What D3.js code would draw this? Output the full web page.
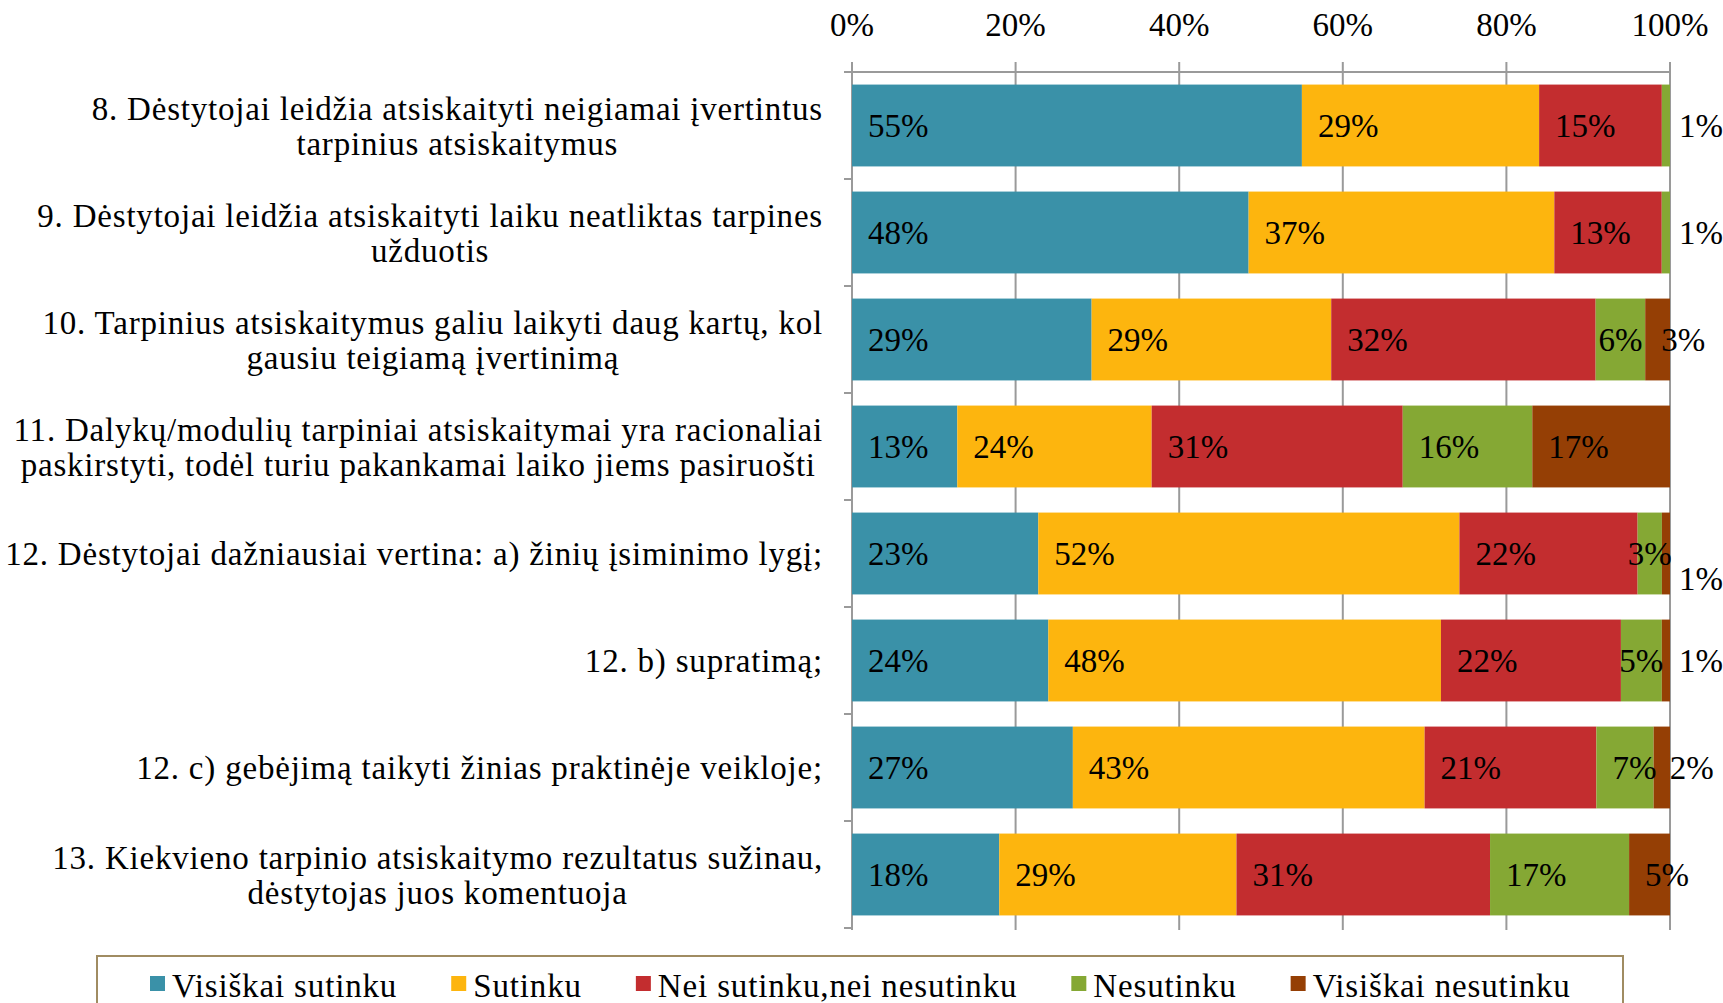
<!DOCTYPE html>
<html>
<head>
<meta charset="utf-8">
<script src="https://cdnjs.cloudflare.com/ajax/libs/d3/7.8.5/d3.min.js"></script>
<style>
  body { margin: 0; background: #fff; }
  text { font-family: "Liberation Serif", "DejaVu Serif", serif; fill: #000; }
</style>
</head>
<body>
<svg id="chart" width="1723" height="1003"></svg>
<script>
const categories = [
  "8. Dėstytojai leidžia atsiskaityti neigiamai įvertintus\ntarpinius atsiskaitymus",
  "9. Dėstytojai leidžia atsiskaityti laiku neatliktas tarpines\nužduotis",
  "10. Tarpinius atsiskaitymus galiu laikyti daug kartų, kol\ngausiu teigiamą įvertinimą",
  "11. Dalykų/modulių tarpiniai atsiskaitymai yra racionaliai\npaskirstyti, todėl turiu pakankamai laiko jiems pasiruošti",
  "12. Dėstytojai dažniausiai vertina: a) žinių įsiminimo lygį;",
  "12. b) supratimą;",
  "12. c) gebėjimą taikyti žinias praktinėje veikloje;",
  "13. Kiekvieno tarpinio atsiskaitymo rezultatus sužinau,\ndėstytojas juos komentuoja"
];
const seriesNames = ["Visiškai sutinku", "Sutinku", "Nei sutinku,nei nesutinku", "Nesutinku", "Visiškai nesutinku"];
const seriesColors = ["#3A91A8", "#FDB50E", "#C32D2F", "#85A834", "#953F05"];

// values per series, one per category (percent)
const visiskaiSutinku = [55, 48, 29, 13, 23, 24, 27, 18];
const sutinku = [29, 37, 29, 24, 52, 48, 43, 29];
const neiSutinku = [15, 13, 32, 31, 22, 22, 21, 31];
const nesutinku = [1, 1, 6, 16, 3, 5, 7, 17];
const visiskaiNesutinku = [0, 0, 3, 17, 1, 1, 2, 5];

const tickValues = [0, 0.2, 0.4, 0.6, 0.8, 1];

const series = [visiskaiSutinku, sutinku, neiSutinku, nesutinku, visiskaiNesutinku];

const svg = d3.select("#chart");
const fontSize = 33;

let x = d3.scaleLinear().domain([0, 1]).range([852, 1670]);
let y = d3.scaleBand().domain(d3.range(categories.length)).range([72, 928])
  .paddingInner(0.235).paddingOuter(0.1175);
const step = y.step();

// rows of normalized stacked segments
let rows = categories.map((c, i) => {
  let vals = series.map(s => s[i]);
  let total = d3.sum(vals);
  let acc = 0;
  return vals.map((v, k) => {
    let seg = { row: i, k: k, value: v, x0: acc / total, x1: (acc + v) / total };
    acc += v;
    return seg;
  });
});

// gridlines + top axis
const gridColor = "#9a9a9a";
let grid = svg.append("g");
grid.selectAll("line.grid").data(tickValues).enter().append("line")
  .attr("x1", d => x(d)).attr("x2", d => x(d))
  .attr("y1", 62).attr("y2", 930)
  .attr("stroke", gridColor).attr("stroke-width", 2);
grid.append("line")
  .attr("x1", x(0)).attr("x2", x(1)).attr("y1", 72).attr("y2", 72)
  .attr("stroke", gridColor).attr("stroke-width", 2);
// left category axis
grid.append("line")
  .attr("x1", x(0)).attr("x2", x(0)).attr("y1", 72).attr("y2", 930)
  .attr("stroke", gridColor).attr("stroke-width", 2);
grid.selectAll("line.ctick").data(d3.range(categories.length + 1)).enter().append("line")
  .attr("x1", x(0) - 8).attr("x2", x(0))
  .attr("y1", d => 72 + d * step).attr("y2", d => 72 + d * step)
  .attr("stroke", gridColor).attr("stroke-width", 2);

svg.append("g").selectAll("text").data(tickValues).enter().append("text")
  .attr("x", d => x(d)).attr("y", 36)
  .attr("text-anchor", "middle")
  .style("font-size", fontSize + "px")
  .text(d => Math.round(d * 100) + "%");

// bars
let barG = svg.append("g");
rows.forEach(segs => {
  barG.selectAll(null).data(segs.filter(s => s.value > 0)).enter().append("rect")
    .attr("x", s => x(s.x0))
    .attr("width", s => x(s.x1) - x(s.x0))
    .attr("y", s => y(s.row))
    .attr("height", y.bandwidth())
    .attr("fill", s => seriesColors[s.k]);
});

// data labels
let labG = svg.append("g").style("font-size", fontSize + "px");
rows.forEach(segs => {
  let prevEnd = 0;
  segs.filter(s => s.value > 0).forEach(s => {
    let cy = y(s.row) + y.bandwidth() / 2;
    let t = labG.append("text")
      .attr("dy", "0.35em")
      .text(s.value + "%");
    let w = t.node().getComputedTextLength();
    let segW = x(s.x1) - x(s.x0);
    let px;
    if (s.value <= 1) {
      px = x(1) + 9;
      // pushed down when the label before it spills past the bar
      if (prevEnd > x(1)) cy += y.bandwidth() * 0.3;
    }
    else if (s.k === 4 || segW >= w + 8) px = x(s.x0) + 16;
    else px = x(s.x0) + segW / 2 - w / 2;
    t.attr("x", px).attr("y", cy);
    prevEnd = px + w;
  });
});

// category labels (centered block, right aligned)
let catG = svg.append("g").style("font-size", fontSize + "px").style("letter-spacing", "0.8px");
const lineH = 35;
categories.forEach((c, i) => {
  let lines = c.split("\n");
  let cy = y(i) + y.bandwidth() / 2;
  let texts = lines.map((l, j) => catG.append("text")
    .attr("y", cy + (j - (lines.length - 1) / 2) * lineH)
    .attr("dy", "0.35em")
    .attr("text-anchor", "middle")
    .text(l));
  let maxW = d3.max(texts, t => t.node().getComputedTextLength());
  texts.forEach(t => t.attr("x", 823 - maxW / 2));
});

// legend
let leg = svg.append("g");
leg.append("rect")
  .attr("x", 97).attr("y", 956).attr("width", 1526).attr("height", 60)
  .attr("fill", "#fff").attr("stroke", "#A08C62").attr("stroke-width", 2);
let lx = 150;
seriesNames.forEach((n, k) => {
  leg.append("rect").attr("x", lx).attr("y", 976).attr("width", 15).attr("height", 15)
    .attr("fill", seriesColors[k]);
  let t = leg.append("text").attr("x", lx + 22).attr("y", 985).attr("dy", "0.35em")
    .style("font-size", fontSize + "px").style("letter-spacing", "0.85px").text(n);
  lx += 22 + t.node().getComputedTextLength() + 54;
});
</script>
</body>
</html>
